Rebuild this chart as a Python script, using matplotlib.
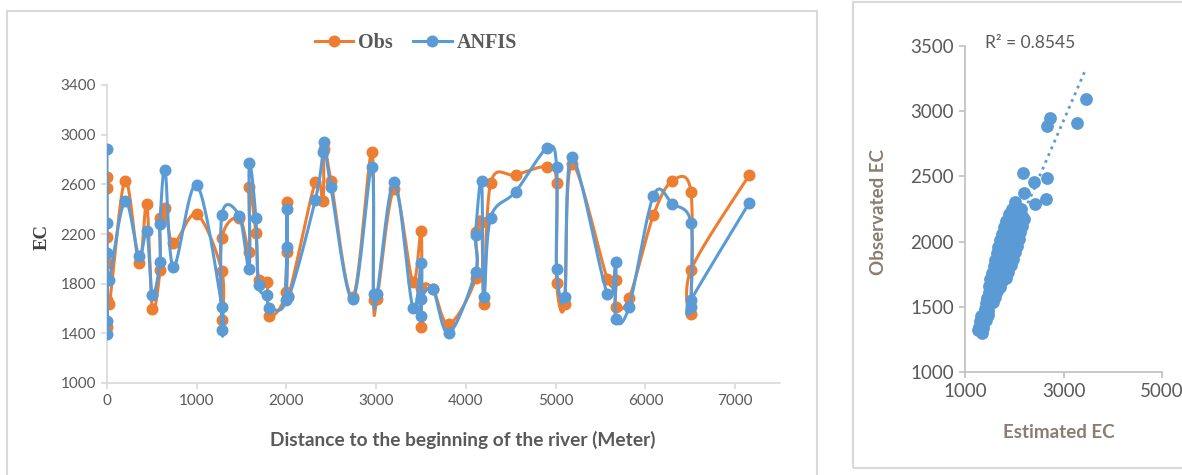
import numpy as np
import matplotlib
matplotlib.use("Agg")
import matplotlib.pyplot as plt
from matplotlib.lines import Line2D
from matplotlib.patches import Rectangle

# ---- data: EC along the river (observed vs ANFIS) ----
distance = [0, 0, 0, 0, 0, 0, 25,
            200, 357, 443, 505, 590, 590, 647, 740, 1000,
            1280, 1280, 1280, 1475, 1585, 1585, 1659, 1689, 1782, 1808,
            1990, 2005, 2005, 2020, 2321, 2407, 2422, 2496, 2738,
            2950, 2970, 3010, 3203, 3408, 3501, 3501, 3501, 3631, 3810,
            4107, 4107, 4174, 4200, 4275, 4554, 4907, 5011, 5011, 5100,
            5179, 5577, 5670, 5670, 5818, 6090, 6302, 6507, 6507, 6507, 7158]
obs = [2662, 2568, 2178, 1454, 1668, 1964, 1636,
       2630, 1965, 2440, 1600, 1910, 2326, 2412, 2125, 2360,
       1902, 1507, 2165, 2330, 2058, 2581, 2206, 1830, 1816, 1540,
       1735, 2460, 2058, 1700, 2616, 2466, 2885, 2627, 1690,
       2863, 1668, 1680, 2562, 1816, 2224, 1449, 1763, 1760, 1473,
       1843, 2219, 2299, 1636, 2608, 2675, 2742, 2608, 1803, 1636,
       2761, 1838, 1830, 1615, 1682, 2353, 2629, 2541, 1556, 1910, 2675]
anfis = [2882, 2286, 2050, 1392, 1499, 1830, 1830,
         2465, 2020, 2225, 1710, 1977, 2278, 2716, 1937, 2595,
         1615, 1427, 2353, 2345, 1918, 2769, 2332, 1789, 1709, 1606,
         1668, 2401, 2098, 1690, 2474, 2858, 2943, 2576, 1677,
         2742, 1714, 1720, 2621, 1606, 1964, 1542, 1677, 1754, 1400,
         1896, 2192, 2627, 1695, 2332, 2541, 2895, 2742, 1918, 1695,
         2823, 1717, 1977, 1515, 1615, 2509, 2442, 2291, 1615, 1668, 2452]

# ---- data: scatter estimated vs observed ----
est_ec = [3455, 3271, 2729, 2661, 2173, 2410, 2675, 2647, 2200, 2017, 2420,
          1270, 1340, 1290, 1370, 1310, 1380, 1430, 1330, 1400, 1460,
          1400, 1470, 1420, 1500, 1570, 1450, 1520, 1600, 1480, 1560, 1640,
          1490, 1570, 1640, 1720, 1510, 1590, 1670, 1750, 1840,
          1550, 1630, 1710, 1800, 1880, 1580, 1670, 1750, 1840, 1930,
          1610, 1700, 1790, 1880, 1970, 1640, 1730, 1820, 1910, 2010,
          1680, 1770, 1860, 1950, 2050, 1710, 1800, 1890, 1980, 2090,
          1750, 1840, 1930, 2020, 2120, 1790, 1880, 1970, 2060, 2150,
          1840, 1930, 2020, 2110, 2190, 1890, 1980, 2070, 2160,
          1950, 2040, 2130]
obs_ec = [3091, 2907, 2946, 2887, 2528, 2459, 2490, 2324, 2370, 2306, 2290,
          1320, 1300, 1345, 1340, 1390, 1380, 1400, 1430, 1425, 1440,
          1480, 1470, 1530, 1520, 1540, 1570, 1565, 1575, 1610, 1600, 1620,
          1660, 1650, 1660, 1650, 1710, 1700, 1710, 1700, 1720,
          1760, 1750, 1760, 1750, 1770, 1810, 1800, 1810, 1800, 1820,
          1860, 1850, 1860, 1850, 1870, 1910, 1900, 1910, 1900, 1920,
          1960, 1950, 1960, 1950, 1970, 2010, 2000, 2010, 2000, 2020,
          2060, 2050, 2060, 2050, 2070, 2110, 2100, 2110, 2100, 2120,
          2160, 2150, 2160, 2150, 2170, 2210, 2200, 2210, 2200,
          2250, 2240, 2250]

ORANGE = "#ED7D31"
BLUE = "#5B9BD5"
LIGHT = "#D9D9D9"
TXT = "#595959"
SANS = "Lato"
SERIF = "Liberation Serif"


def excel_smooth(xs, ys, steps=24):
    # Bezier pieces with Catmull-Rom style control points, like Excel's smoothed line
    pts = np.column_stack([xs, ys]).astype(float)
    n = len(pts)
    t = np.linspace(0, 1, steps)[1:, None]
    out = [pts[0]]
    for i in range(n - 1):
        p0 = pts[max(i - 1, 0)]
        p1 = pts[i]
        p2 = pts[i + 1]
        p3 = pts[min(i + 2, n - 1)]
        c1 = p1 + (p2 - p0) / 6
        c2 = p2 - (p3 - p1) / 6
        seg = ((1 - t) ** 3) * p1 + 3 * ((1 - t) ** 2) * t * c1 \
            + 3 * (1 - t) * t ** 2 * c2 + t ** 3 * p2
        out.extend(seg)
    out = np.array(out)
    return out[:, 0], out[:, 1]


W, H = 1182, 475
fig = plt.figure(figsize=(W / 100, H / 100), dpi=100)

# panel borders
fig.add_artist(Rectangle((7 / W, -0.02), (817 - 7) / W, (475 - 11) / H + 0.02,
                         transform=fig.transFigure, fill=False, ec=LIGHT, lw=1.5))
fig.add_artist(Rectangle((853 / W, 7 / H), (1195 - 853) / W, (468 - 2) / H,
                         transform=fig.transFigure, fill=False, ec=LIGHT, lw=1.5))

# ---- left: EC along river ----
ax = fig.add_axes([107 / W, 92 / H, (780 - 107) / W, 298 / H])
for ys, color in [(obs, ORANGE), (anfis, BLUE)]:
    sx, sy = excel_smooth(distance, ys)
    ax.plot(sx, sy, color=color, lw=2.2, solid_capstyle="round", zorder=3)
    ax.plot(distance, ys, "o", color=color, ms=7.6, zorder=3)

ax.set_xlim(0, 7500)
ax.set_ylim(1000, 3400)
ax.set_xticks(range(0, 8000, 1000))
ax.set_yticks(range(1000, 3401, 400))
for side in ["top", "right"]:
    ax.spines[side].set_visible(False)
for side in ["left", "bottom"]:
    ax.spines[side].set_color(LIGHT)
    ax.spines[side].set_linewidth(1.2)
ax.tick_params(direction="out", length=4, width=1.2, color=LIGHT,
               labelcolor=TXT, labelsize=11, pad=4)
for lab in ax.get_xticklabels() + ax.get_yticklabels():
    lab.set_fontfamily(SANS)

handles = [Line2D([], [], color=ORANGE, lw=2.2, marker="o", ms=7.6),
           Line2D([], [], color=BLUE, lw=2.2, marker="o", ms=7.6)]
fig.legend(handles, ["Obs", "ANFIS"], loc="center",
           bbox_to_anchor=(416 / W, 1 - 43 / H), ncol=2, frameon=False,
           prop={"family": SERIF, "weight": "bold", "size": 14.5},
           labelcolor=TXT, handlelength=1.9, handletextpad=0.25,
           columnspacing=1.0)

fig.text(42 / W, 1 - 237 / H, "EC", rotation=90, ha="center", va="center",
         family=SERIF, weight="bold", size=13.5, color="#404040")
fig.text(463 / W, 1 - 440 / H, "Distance to the beginning of the river (Meter)",
         ha="center", va="center", family=SANS, weight="bold", size=13.8,
         color=TXT)

# ---- right: estimated vs observed ----
ax2 = fig.add_axes([965 / W, 103 / H, 197 / W, 326 / H])
ax2.scatter(est_ec, obs_ec, s=85, color=BLUE, lw=0, zorder=3)
k, b = np.polyfit(est_ec, obs_ec, 1)
tx = np.array([min(est_ec), max(est_ec)])
ax2.plot(tx, k * tx + b, ":", color=BLUE, lw=2, zorder=4)

ax2.set_xlim(1000, 5000)
ax2.set_ylim(1000, 3500)
ax2.set_xticks([1000, 3000, 5000])
ax2.set_yticks(range(1000, 3501, 500))
for side in ["top", "right"]:
    ax2.spines[side].set_visible(False)
for side in ["left", "bottom"]:
    ax2.spines[side].set_color("#BFBFBF")
    ax2.spines[side].set_linewidth(1.2)
ax2.tick_params(direction="out", length=4, width=1.2, color="#BFBFBF",
                labelcolor=TXT, labelsize=13.5, pad=4)
for lab in ax2.get_xticklabels() + ax2.get_yticklabels():
    lab.set_fontfamily(SANS)

fig.text(1030 / W, 1 - 43 / H, "R² = 0.8545", ha="center", va="center",
         family=SANS, size=12.5, color=TXT)
fig.text(879 / W, 1 - 212 / H, "Observated EC", rotation=90, ha="center",
         va="center", family=SANS, weight="bold", size=13.5, color="#8B7D70")
fig.text(1059 / W, 1 - 432 / H, "Estimated EC", ha="center", va="center",
         family=SANS, weight="bold", size=13.5, color="#8B7D70")

fig.savefig("out.png", dpi=100)
